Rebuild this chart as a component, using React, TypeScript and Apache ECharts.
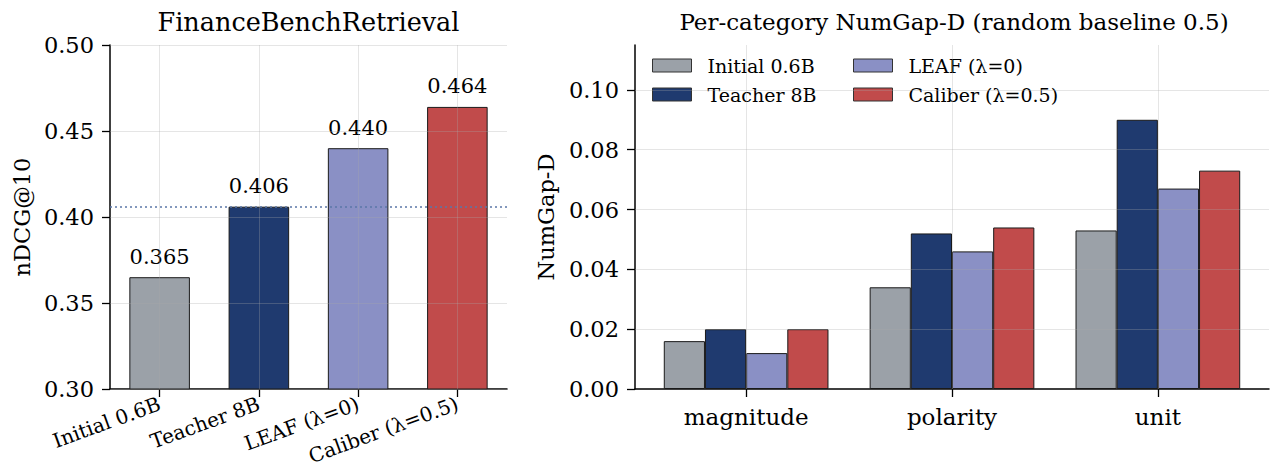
import React, { useEffect, useRef } from "react";
import * as echarts from "echarts";

const FONT = "'DejaVu Serif', serif";

const leftCategories = ["Initial 0.6B", "Teacher 8B", "LEAF (λ=0)", "Caliber (λ=0.5)"];
const leftValues = [0.365, 0.406, 0.44, 0.464];
const leftTicks = [0.3, 0.35, 0.4, 0.45, 0.5];
const referenceValue = leftValues[1];

const rightCategories = ["magnitude", "polarity", "unit"];
const seriesNames = ["Initial 0.6B", "Teacher 8B", "LEAF (λ=0)", "Caliber (λ=0.5)"];
const initialVals = [0.016, 0.034, 0.053];
const teacherVals = [0.02, 0.052, 0.09];
const leafVals = [0.012, 0.046, 0.067];
const caliberVals = [0.02, 0.054, 0.073];
const rightTicks = [0, 0.02, 0.04, 0.06, 0.08, 0.1];

const colors = ["#9ba1a8", "#1f3a6f", "#8a90c5", "#c14b4b"];
const gridColor = "rgba(170,170,170,0.3)";

export default function App() {
  const ref = useRef<HTMLDivElement>(null);
  useEffect(() => {
    document.body.style.margin = "0";
    const chart = echarts.init(ref.current!, null, { renderer: "svg" });
    const axisLineStyle = { color: "#000", width: 1.5 };
    const tickStyle = { show: true, length: 8, lineStyle: { color: "#000", width: 1.3 } };
    const rightSeriesVals = [initialVals, teacherVals, leafVals, caliberVals];
    const legendBase = {
      orient: "vertical",
      top: 51,
      itemWidth: 39,
      itemHeight: 13,
      itemGap: 10,
      icon: "rect",
      itemStyle: { borderColor: "#333", borderWidth: 1 },
      textStyle: { fontFamily: FONT, fontSize: 19, color: "#000", padding: [0, 0, 0, 11] },
    };

    const option: any = {
      animation: false,
      textStyle: { fontFamily: FONT },
      title: [
        {
          text: "FinanceBenchRetrieval",
          left: 303.5,
          top: 4,
          textAlign: "center",
          textStyle: { fontFamily: FONT, fontSize: 25.5, fontWeight: "normal", color: "#000" },
        },
        {
          text: "Per-category NumGap-D (random baseline 0.5)",
          left: 949,
          top: 5,
          textAlign: "center",
          textStyle: { fontFamily: FONT, fontSize: 23, fontWeight: "normal", color: "#000" },
        },
      ],
      legend: [
        { ...legendBase, data: [seriesNames[0], seriesNames[1]], left: 647 },
        { ...legendBase, data: [seriesNames[2], seriesNames[3]], left: 848 },
      ],
      grid: [
        { left: 110, right: 765, top: 45, bottom: 81, outerBoundsMode: "none", containLabel: false },
        { left: 635, right: 3, top: 45, bottom: 81, outerBoundsMode: "none", containLabel: false },
        { left: 643.2, right: 11.2, top: 45, bottom: 81, outerBoundsMode: "none", containLabel: false },
      ],
      xAxis: [
        {
          type: "category",
          gridIndex: 0,
          data: leftCategories,
          axisLine: { lineStyle: axisLineStyle },
          axisTick: { ...tickStyle, alignWithLabel: true },
          axisLabel: { rotate: 20, margin: 14, fontFamily: FONT, fontSize: 20, color: "#000" },
          splitLine: { show: false },
        },
        {
          type: "value",
          gridIndex: 1,
          min: 0,
          max: 1,
          axisLine: { show: true, onZero: false, lineStyle: axisLineStyle },
          axisTick: { show: false },
          axisLabel: { show: false },
          splitLine: { show: false },
        },
        {
          type: "category",
          gridIndex: 2,
          data: rightCategories,
          axisLine: { show: false },
          axisTick: { ...tickStyle, alignWithLabel: true },
          axisLabel: { margin: 16, fontFamily: FONT, fontSize: 23, color: "#000" },
          splitLine: { show: false },
        },
      ],
      yAxis: [
        {
          type: "value",
          gridIndex: 0,
          min: 0.3,
          max: 0.5,
          interval: 0.05,
          name: "nDCG@10",
          nameLocation: "middle",
          nameGap: 77,
          nameTextStyle: { fontFamily: FONT, fontSize: 22.5, color: "#000" },
          axisLine: { show: true, lineStyle: axisLineStyle },
          axisTick: tickStyle,
          axisLabel: {
            margin: 16,
            fontFamily: FONT,
            fontSize: 22.5,
            color: "#000",
            formatter: (v: number) => v.toFixed(2),
          },
          splitLine: { show: false },
        },
        {
          type: "value",
          gridIndex: 1,
          min: 0,
          max: 0.115,
          name: "NumGap-D",
          nameLocation: "middle",
          nameGap: 78,
          nameTextStyle: { fontFamily: FONT, fontSize: 22.5, color: "#000" },
          axisLine: { show: true, lineStyle: axisLineStyle },
          axisTick: { ...tickStyle, customValues: rightTicks },
          axisLabel: {
            margin: 16,
            fontFamily: FONT,
            fontSize: 22.5,
            color: "#000",
            customValues: rightTicks,
            formatter: (v: number) => v.toFixed(2),
          },
          splitLine: { show: false },
        },
        {
          type: "value",
          gridIndex: 2,
          min: 0,
          max: 0.115,
          show: false,
          splitLine: { show: false },
        },
      ],
      series: [
        {
          type: "bar",
          name: "nDCG",
          xAxisIndex: 0,
          yAxisIndex: 0,
          barWidth: "61%",
          data: leftValues.map((v, i) => ({ value: v, itemStyle: { color: colors[i] } })),
          itemStyle: { borderColor: "#1a1a1a", borderWidth: 1 },
          label: {
            show: true,
            position: "top",
            distance: 10,
            fontFamily: FONT,
            fontSize: 21,
            color: "#000",
            formatter: (p: any) => Number(p.value).toFixed(3),
          },
        },
        {
          type: "line",
          name: "leftGrid",
          xAxisIndex: 0,
          yAxisIndex: 0,
          data: [],
          z: 5,
          silent: true,
          markLine: {
            silent: true,
            precision: 4,
            symbol: ["none", "none"],
            label: { show: false },
            lineStyle: { color: gridColor, type: "solid", width: 1 },
            data: [
              ...leftTicks.map((t) => ({ yAxis: t })),
              ...leftCategories.map((c) => ({ xAxis: c })),
              { yAxis: referenceValue, lineStyle: { color: "#5b77a8", type: [2, 3], width: 1.6 } },
            ],
          },
        },
        ...seriesNames.map((name, si) => ({
          type: "bar",
          name,
          xAxisIndex: 2,
          yAxisIndex: 2,
          barWidth: "20%",
          barGap: "0%",
          data: rightSeriesVals[si],
          itemStyle: { color: colors[si], borderColor: "#1a1a1a", borderWidth: 1 },
        })),
        {
          type: "line",
          name: "rightHGrid",
          xAxisIndex: 1,
          yAxisIndex: 1,
          data: [],
          z: 5,
          silent: true,
          markLine: {
            silent: true,
            precision: 4,
            symbol: ["none", "none"],
            label: { show: false },
            lineStyle: { color: gridColor, type: "solid", width: 1 },
            data: rightTicks.filter((t) => t > 0).map((t) => ({ yAxis: t })),
          },
        },
        {
          type: "line",
          name: "rightVGrid",
          xAxisIndex: 2,
          yAxisIndex: 2,
          data: [],
          z: 5,
          silent: true,
          markLine: {
            silent: true,
            symbol: ["none", "none"],
            label: { show: false },
            lineStyle: { color: gridColor, type: "solid", width: 1 },
            data: rightCategories.map((c) => ({ xAxis: c })),
          },
        },
      ],
    };
    chart.setOption(option);
    return () => chart.dispose();
  }, []);
  return <div ref={ref} style={{ width: 1272, height: 470 }} />;
}
